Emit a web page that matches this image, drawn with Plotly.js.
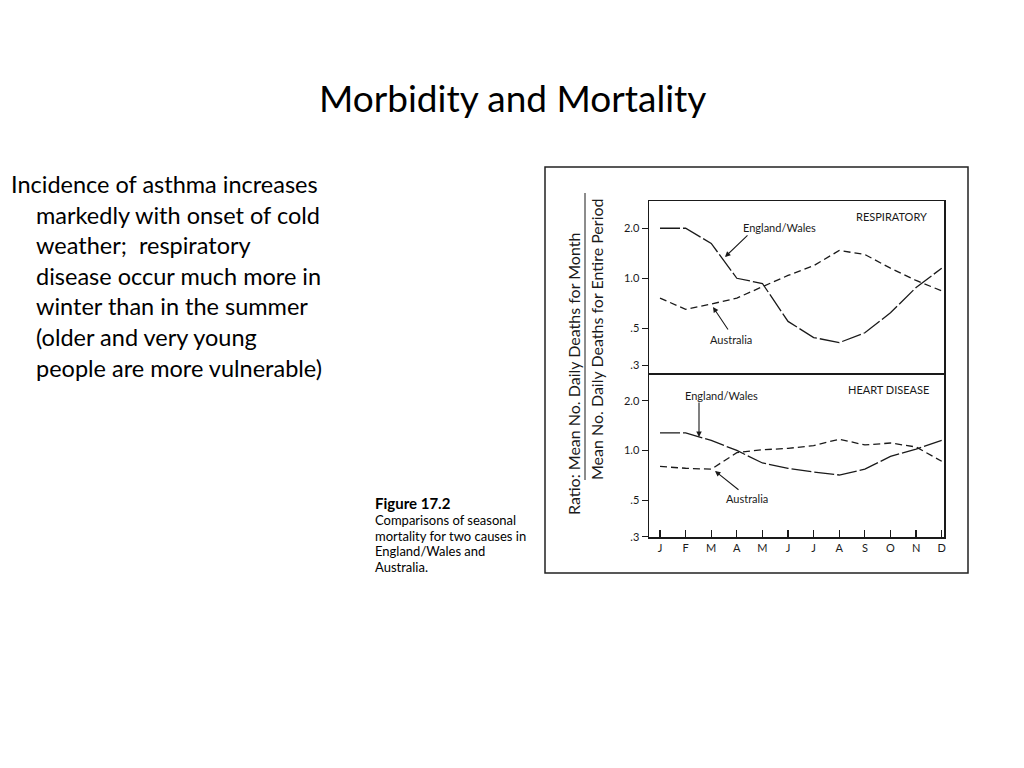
<!DOCTYPE html>
<html>
<head>
<meta charset="utf-8">
<script src="https://cdn.plot.ly/plotly-3.0.1.min.js"></script>
<style>html,body{margin:0;padding:0;background:#fff;}#chart{width:1024px;height:768px;}</style>
</head>
<body>
<div id="chart"></div>
<script>
// ---- data ----
const months = ['J','F','M','A','M','J','J','A','S','O','N','D'];
const respEnglandWales = [2.0, 2.0, 1.62, 1.0, 0.93, 0.55, 0.44, 0.41, 0.47, 0.62, 0.88, 1.15];
const respAustralia    = [0.76, 0.65, 0.70, 0.76, 0.89, 1.04, 1.19, 1.47, 1.39, 1.15, 0.97, 0.84];
const heartEnglandWales = [1.28, 1.28, 1.15, 1.0, 0.84, 0.78, 0.74, 0.71, 0.77, 0.92, 1.02, 1.15];
const heartAustralia    = [0.80, 0.78, 0.77, 0.97, 1.01, 1.03, 1.07, 1.17, 1.08, 1.11, 1.05, 0.86];
const yTickVals = [0.3, 0.5, 1, 2];
const yTickText = ['.3', '.5', '1.0', '2.0'];
const bulletLines = [
  'Incidence of asthma increases',
  'markedly with onset of cold',
  'weather;  respiratory',
  'disease occur much more in',
  'winter than in the summer',
  '(older and very young',
  'people are more vulnerable)'
];
const captionLines = [
  'Comparisons of seasonal',
  'mortality for two causes in',
  'England/Wales and',
  'Australia.'
];

// ---- helpers: pixel -> paper ----
const W = 1024, H = 768;
const px = x => x / W;
const py = y => 1 - y / H;
const xIdx = months.map((_, i) => i);

const ink = '#1a1a1a';
const chartFont = 'Lato, "Open Sans", sans-serif';
const slideFont = 'Lato, "Open Sans", sans-serif';

const lineEW = {color: ink, width: 1.3, dash: '20px,3px'};
const lineAU = {color: ink, width: 1.3, dash: '7px,4px'};

const traces = [
  {x: xIdx, y: respEnglandWales, xaxis: 'x', yaxis: 'y', mode: 'lines', line: lineEW, name: 'England/Wales', hoverinfo: 'skip'},
  {x: xIdx, y: respAustralia, xaxis: 'x', yaxis: 'y', mode: 'lines', line: lineAU, name: 'Australia', hoverinfo: 'skip'},
  {x: xIdx, y: heartEnglandWales, xaxis: 'x2', yaxis: 'y2', mode: 'lines', line: lineEW, name: 'England/Wales', hoverinfo: 'skip'},
  {x: xIdx, y: heartAustralia, xaxis: 'x2', yaxis: 'y2', mode: 'lines', line: lineAU, name: 'Australia', hoverinfo: 'skip'}
];

const xDomain = [px(649), px(944)];
const xRange = [-0.43, 11.09];
const yAxisCommon = {
  type: 'log', tickvals: yTickVals, ticktext: yTickText,
  ticks: 'outside', ticklen: 6, tickwidth: 1.2, tickcolor: ink,
  showline: true, mirror: true, linecolor: ink, linewidth: 1.5,
  showgrid: false, zeroline: false,
  tickfont: {family: chartFont, size: 11, color: ink}
};

const annotations = [];
// slide title
annotations.push({xref: 'paper', yref: 'paper', x: px(512), y: py(97), text: 'Morbidity and Mortality',
  showarrow: false, xanchor: 'center', yanchor: 'middle', font: {family: slideFont, size: 37, color: '#000'}});
// bullet text
bulletLines.forEach((t, i) => {
  annotations.push({xref: 'paper', yref: 'paper', x: px(i === 0 ? 9 : 34), y: py(184 + i * 30.6), text: t,
    showarrow: false, xanchor: 'left', yanchor: 'middle', font: {family: slideFont, size: 23.5, color: '#000'}});
});
// caption
annotations.push({xref: 'paper', yref: 'paper', x: px(373), y: py(503), text: '<b>Figure 17.2</b>',
  showarrow: false, xanchor: 'left', yanchor: 'middle', font: {family: chartFont, size: 15, color: '#000'}});
captionLines.forEach((t, i) => {
  annotations.push({xref: 'paper', yref: 'paper', x: px(373), y: py(520 + i * 15.6), text: t,
    showarrow: false, xanchor: 'left', yanchor: 'middle', font: {family: chartFont, size: 13, color: '#000'}});
});
// y titles (fraction)
annotations.push({xref: 'paper', yref: 'paper', x: px(573), y: py(374), text: 'Ratio: Mean No. Daily Deaths for Month',
  textangle: -90, showarrow: false, xanchor: 'center', yanchor: 'middle', font: {family: chartFont, size: 16, color: ink}});
annotations.push({xref: 'paper', yref: 'paper', x: px(596), y: py(339), text: 'Mean No. Daily Deaths for Entire Period',
  textangle: -90, showarrow: false, xanchor: 'center', yanchor: 'middle', font: {family: chartFont, size: 16, color: ink}});
// panel labels
annotations.push({xref: 'paper', yref: 'paper', x: px(929), y: py(216), text: 'RESPIRATORY',
  showarrow: false, xanchor: 'right', yanchor: 'middle', font: {family: chartFont, size: 11, color: ink}});
annotations.push({xref: 'paper', yref: 'paper', x: px(931), y: py(389), text: 'HEART DISEASE',
  showarrow: false, xanchor: 'right', yanchor: 'middle', font: {family: chartFont, size: 11, color: ink}});
// series labels
const lbl = (x, y, t) => annotations.push({xref: 'paper', yref: 'paper', x: px(x), y: py(y), text: t,
  showarrow: false, xanchor: 'center', yanchor: 'middle', font: {family: chartFont, size: 11, color: ink}});
lbl(779, 227, 'England/Wales');
lbl(731, 339, 'Australia');
lbl(721, 395, 'England/Wales');
lbl(747, 498, 'Australia');
// arrows (head position in paper, tail offset in px)
const arrow = (hx, hy, tx, ty) => annotations.push({xref: 'paper', yref: 'paper', x: px(hx), y: py(hy),
  ax: tx - hx, ay: ty - hy, text: '', showarrow: true, arrowhead: 2, arrowsize: 1, arrowwidth: 1.1, arrowcolor: ink, standoff: 0});
arrow(725, 257, 749, 234);
arrow(713, 307, 729, 331);
arrow(699, 437, 699, 401);
arrow(715, 471, 740, 491);

const shapes = [
  // outer frame of the figure
  {type: 'rect', xref: 'paper', yref: 'paper', x0: px(545), x1: px(968), y0: py(573), y1: py(167),
   line: {color: '#222', width: 1.5}},
  // fraction bar of the y title
  {type: 'line', xref: 'paper', yref: 'paper', x0: px(585), x1: px(585), y0: py(193), y1: py(480),
   line: {color: ink, width: 1}}
];

const layout = {
  width: W, height: H,
  margin: {l: 0, r: 0, t: 0, b: 0},
  paper_bgcolor: '#fff', plot_bgcolor: '#fff',
  showlegend: false,
  xaxis: {domain: xDomain, range: xRange, anchor: 'y', showticklabels: false, ticks: '',
    showline: true, mirror: true, linecolor: ink, linewidth: 1.5, showgrid: false, zeroline: false},
  yaxis: Object.assign({}, yAxisCommon, {domain: [py(373), py(201)], range: [-0.570, 0.465], anchor: 'x'}),
  xaxis2: {domain: xDomain, range: xRange, anchor: 'y2', tickvals: xIdx, ticktext: months,
    ticks: 'inside', ticklen: 7, tickwidth: 1.2, tickcolor: ink,
    showline: true, mirror: true, linecolor: ink, linewidth: 1.5, showgrid: false, zeroline: false,
    tickfont: {family: chartFont, size: 11, color: ink}},
  yaxis2: Object.assign({}, yAxisCommon, {domain: [py(537), py(375)], range: [-0.5245, 0.4575], anchor: 'x2'}),
  annotations: annotations,
  shapes: shapes
};

Plotly.newPlot('chart', traces, layout, {staticPlot: true, displayModeBar: false});
</script>
</body>
</html>
